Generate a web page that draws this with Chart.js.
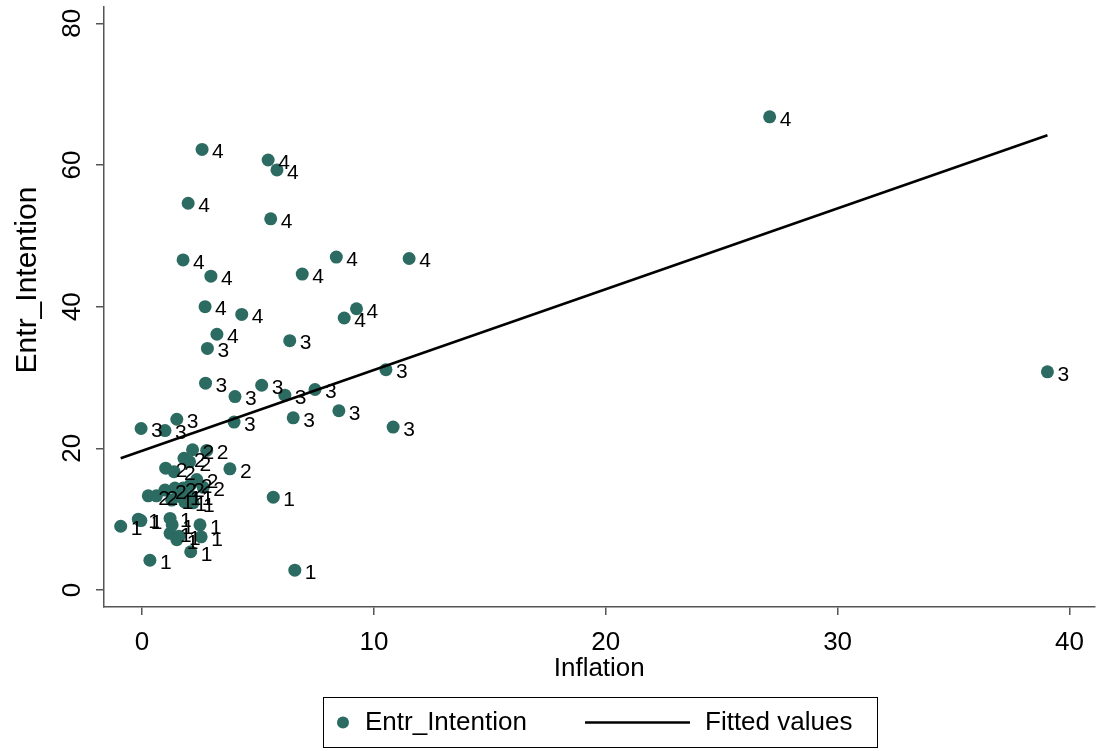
<!DOCTYPE html>
<html>
<head>
<meta charset="utf-8">
<title>Entr_Intention vs Inflation</title>
<script src="https://cdn.jsdelivr.net/npm/chart.js@4/dist/chart.umd.min.js"></script>
<style>
  html, body { margin: 0; padding: 0; background: #ffffff; overflow: hidden; }
  #wrap { width: 1096px; height: 751px; overflow: hidden; }
</style>
</head>
<body>
<div id="wrap"><canvas id="chart" width="1101" height="751"></canvas></div>
<script>
// Country observations: inflation rate, entrepreneurial intention, group marker label
const inflation = [
  27.07, 2.59, 5.44, 5.82, 1.99, 5.55, 1.77, 2.97, 6.91, 8.38, 11.52, 2.72, 4.30, 9.25, 8.72, 3.23,
  39.05, 2.82, 6.37, 2.74, 4.01, 5.16, 6.16, 7.46, 10.52, 3.97, 6.52, 8.49, 10.83, -0.04, 0.99, 1.50,
  1.81, 2.18, 2.79, 2.05, 1.02, 1.38, 3.79, 2.36, 2.64, 2.10, 0.27, 0.62, 0.99, 1.42, 1.77,
  5.66, 1.28, 1.64, 2.14, 1.85, 2.20, -0.92, -0.16, -0.05, 1.21, 1.30, 1.21, 1.50, 1.60, 2.50, 2.55, 0.34, 2.10, 6.59
];
const entrIntention = [
  66.8, 62.2, 60.7, 59.3, 54.6, 52.4, 46.6, 44.3, 44.6, 47.0, 46.8, 40.0, 38.9, 39.7, 38.4, 36.1,
  30.8, 34.1, 35.2, 29.2, 27.3, 28.9, 27.5, 28.3, 31.1, 23.7, 24.3, 25.3, 23.0, 22.8, 22.5, 24.1,
  18.6, 19.8, 19.7, 18.1, 17.2, 16.7, 17.1, 15.6, 14.5, 14.9, 13.3, 13.3, 14.1, 14.4, 14.4,
  13.1, 12.7, 13.2, 13.2, 12.4, 12.3, 9.0, 10.0, 9.8, 10.1, 9.2, 8.0, 7.1, 7.6, 9.2, 7.5, 4.2, 5.4, 2.8
];
const groupLabels = [
  '4','4','4','4','4','4','4','4','4','4','4','4','4','4','4','4',
  '3','3','3','3','3','3','3','3','3','3','3','3','3','3','3','3',
  '2','2','2','2','2','2','2','2','2','2','2','2','2','2','2',
  '1','1','1','1','1','1','1','1','1','1','1','1','1','1','1','1','1','1','1'
];

// Linear fit endpoints over the observed inflation range
const fitInflation = [-0.92, 39.05];
const fitValues = [18.6, 64.2];

// Axis ticks
const xTicks = [0, 10, 20, 30, 40];
const yTicks = [0, 20, 40, 60, 80];

const FONT = "'Liberation Sans', Arial, Helvetica, sans-serif";
const MARKER = '#2c6b61';
const AXIS = '#555555';

const scatterPoints = inflation.map((x, i) => ({ x: x, y: entrIntention[i] }));
const fitPoints = fitInflation.map((x, i) => ({ x: x, y: fitValues[i] }));

// Writes each observation's group number to the right of its marker
const markerLabels = {
  id: 'markerLabels',
  afterDatasetsDraw(chart) {
    const meta = chart.getDatasetMeta(0);
    const ctx = chart.ctx;
    ctx.save();
    ctx.font = '21px ' + FONT;
    ctx.fillStyle = '#000000';
    ctx.textAlign = 'left';
    ctx.textBaseline = 'middle';
    meta.data.forEach((pt, i) => {
      ctx.fillText(groupLabels[i], pt.x + 10, pt.y + 3);
    });
    ctx.restore();
  }
};

// Vertical axis title and boxed legend
const frameText = {
  id: 'frameText',
  afterDraw(chart) {
    const ctx = chart.ctx;
    ctx.save();
    ctx.fillStyle = '#000000';
    ctx.font = '30px ' + FONT;
    ctx.textAlign = 'center';
    ctx.textBaseline = 'middle';
    ctx.translate(28, 280);
    ctx.rotate(-Math.PI / 2);
    ctx.fillText('Entr_Intention', 0, 0);
    ctx.restore();

    // legend
    const ds = chart.data.datasets;
    const bx = 323.5, by = 697.5, bw = 554, bh = 50;
    const cy = by + bh / 2;
    ctx.save();
    ctx.strokeStyle = '#000000';
    ctx.lineWidth = 1;
    ctx.strokeRect(bx, by, bw, bh);
    ctx.fillStyle = MARKER;
    ctx.beginPath();
    ctx.arc(343, cy, 6, 0, Math.PI * 2);
    ctx.fill();
    ctx.strokeStyle = '#000000';
    ctx.lineWidth = 2.5;
    ctx.beginPath();
    ctx.moveTo(585, cy);
    ctx.lineTo(690, cy);
    ctx.stroke();
    ctx.fillStyle = '#000000';
    ctx.font = '26px ' + FONT;
    ctx.textAlign = 'left';
    ctx.textBaseline = 'middle';
    ctx.fillText(ds[0].label, 365, cy);
    ctx.fillText(ds[1].label, 705, cy);
    ctx.restore();
  }
};

new Chart(document.getElementById('chart'), {
  type: 'scatter',
  data: {
    datasets: [
      {
        label: 'Entr_Intention',
        data: scatterPoints,
        backgroundColor: MARKER,
        borderColor: MARKER,
        borderWidth: 0,
        pointRadius: 6.5,
        pointHoverRadius: 6.5,
        order: 2
      },
      {
        type: 'line',
        label: 'Fitted values',
        data: fitPoints,
        borderColor: '#000000',
        borderWidth: 2.5,
        pointRadius: 0,
        fill: false,
        order: 1
      }
    ]
  },
  options: {
    responsive: false,
    animation: false,
    devicePixelRatio: 1,
    layout: { padding: { top: 7, right: 1, bottom: 60, left: 0 } },
    plugins: {
      legend: { display: false },
      tooltip: { enabled: false }
    },
    scales: {
      x: {
        type: 'linear',
        min: -1.64,
        max: 41.08,
        afterBuildTicks(scale) { scale.ticks = xTicks.map(v => ({ value: v })); },
        afterFit(scale) { scale.height = 84; scale.paddingLeft = 0; scale.paddingRight = 0; },
        grid: { drawOnChartArea: false, drawTicks: true, tickLength: 8, color: AXIS, lineWidth: 1.5 },
        border: { display: true, color: AXIS, width: 1.5 },
        ticks: { font: { family: FONT, size: 26 }, color: '#000000', padding: 12, maxRotation: 0 },
        title: { display: true, text: 'Inflation', font: { family: FONT, size: 26 }, color: '#000000', padding: { top: 0, bottom: 7 } }
      },
      y: {
        type: 'linear',
        min: -2.4,
        max: 82.3,
        afterBuildTicks(scale) { scale.ticks = yTicks.map(v => ({ value: v })); },
        afterFit(scale) { scale.width = 104; scale.paddingTop = 0; scale.paddingBottom = 0; },
        grid: { drawOnChartArea: false, drawTicks: true, tickLength: 8, color: AXIS, lineWidth: 1.5 },
        border: { display: true, color: AXIS, width: 1.5 },
        ticks: { font: { family: FONT, size: 26 }, color: '#000000', padding: 9, minRotation: 90, maxRotation: 90, crossAlign: 'center' }
      }
    }
  },
  plugins: [markerLabels, frameText]
});
</script>
</body>
</html>
